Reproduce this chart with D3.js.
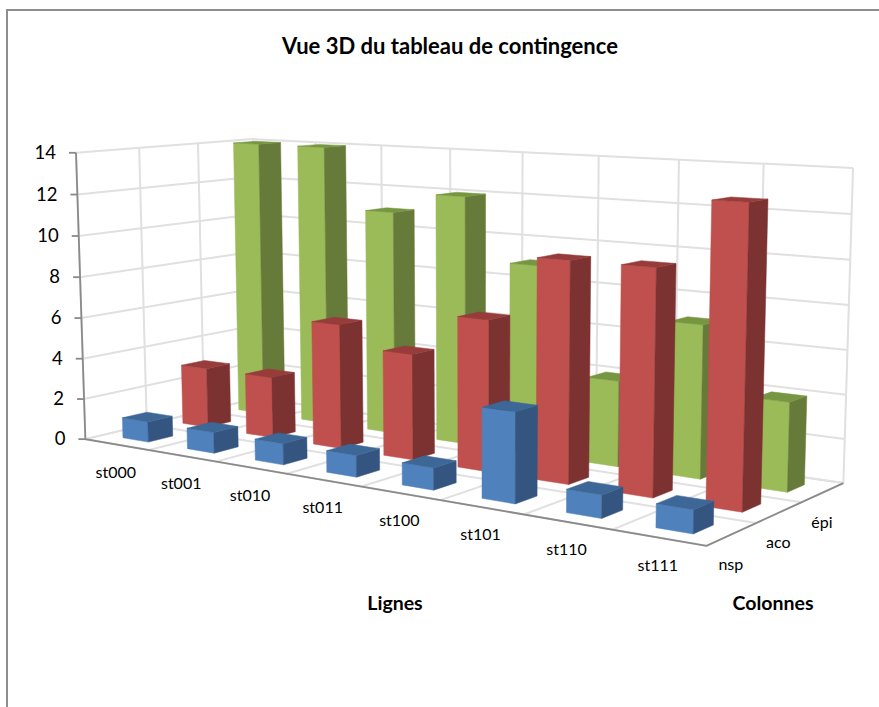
<!DOCTYPE html>
<html>
<head>
<meta charset="utf-8">
<script src="https://cdn.jsdelivr.net/npm/d3@7"></script>
<style>
  body { margin: 0; background: #fff; }
  svg { display: block; }
  text { font-family: Lato, "Open Sans", sans-serif; fill: #000; }
</style>
</head>
<body>
<div id="chart"></div>
<script>
// Values
var rowLabels = ["st000", "st001", "st010", "st011", "st100", "st101", "st110", "st111"];
var depthLabels = ["nsp", "aco", "épi"];
var nspValues = [1, 1, 1, 1, 1, 4, 1, 1];
var acoValues = [3, 3, 6, 5, 7, 10, 10, 13];
var epiValues = [14, 14, 11, 12, 9, 4, 7, 4];
var valueTicks = [0, 2, 4, 6, 8, 10, 12, 14];

var svgWidth = 879;
var svgHeight = 707;

var svg = d3.select("#chart")
    .append("svg")
    .attr("width", svgWidth)
    .attr("height", svgHeight);

// Scales go to a unit box: u along the rows, v into the depth, w upward
var uScale = d3.scaleBand().domain(rowLabels).range([0, 1]).paddingInner(0.6).paddingOuter(0.3);
var vScale = d3.scaleBand().domain(depthLabels).range([0, 1]).paddingInner(0.6).paddingOuter(0.3);
var wScale = d3.scaleLinear().domain([0, 14]).range([0, 1]);

// Where the corners of the unit box land on the page, the camera is fitted on these
var boxCorners = [
    [0, 0, 0, 85, 437],
    [1, 0, 0, 707, 547],
    [1, 1, 0, 843, 482],
    [0, 1, 0, 258, 400],
    [0, 0, 1, 76, 154],
    [0, 1, 1, 253, 138],
    [1, 1, 1, 853, 168]
];

// Solve a square linear system
function solve(A, b) {
    var n = b.length;
    var M = A.map((row, i) => row.concat([b[i]]));
    for (var c = 0; c < n; c++) {
        var best = c;
        for (var r = c + 1; r < n; r++) {
            if (Math.abs(M[r][c]) > Math.abs(M[best][c])) best = r;
        }
        var tmp = M[c]; M[c] = M[best]; M[best] = tmp;
        for (var r2 = 0; r2 < n; r2++) {
            if (r2 === c) continue;
            var f = M[r2][c] / M[c][c];
            for (var k = c; k <= n; k++) M[r2][k] -= f * M[c][k];
        }
    }
    return M.map((row, i) => row[n] / row[i]);
}

// Least squares fit of a 3x4 projective camera
function fitCamera(points) {
    var rows = [];
    var rhs = [];
    points.forEach(function(p) {
        var x = p[3] / 1000, y = p[4] / 1000;
        rows.push([p[0], p[1], p[2], 1, 0, 0, 0, 0, -x * p[0], -x * p[1], -x * p[2]]);
        rhs.push(x);
        rows.push([0, 0, 0, 0, p[0], p[1], p[2], 1, -y * p[0], -y * p[1], -y * p[2]]);
        rhs.push(y);
    });
    var n = 11;
    var AtA = d3.range(n).map(i => d3.range(n).map(j => d3.sum(rows, r => r[i] * r[j])));
    var Atb = d3.range(n).map(i => d3.sum(rows, (r, k) => r[i] * rhs[k]));
    return solve(AtA, Atb);
}

var cam = fitCamera(boxCorners);

function project(u, v, w) {
    var d = cam[8] * u + cam[9] * v + cam[10] * w + 1;
    return [
        1000 * (cam[0] * u + cam[1] * v + cam[2] * w + cam[3]) / d,
        1000 * (cam[4] * u + cam[5] * v + cam[6] * w + cam[7]) / d
    ];
}

var line = d3.line();
var closedLine = d3.line().curve(d3.curveLinearClosed);

// Chart frame
svg.append("path")
    .attr("d", line([[7, svgHeight], [7, 10], [svgWidth, 10]]))
    .attr("fill", "none")
    .attr("stroke", "#8e8e8e")
    .attr("stroke-width", 2);

// Gridlines
var gridGroup = svg.append("g")
    .attr("fill", "none")
    .attr("stroke", "#e0e0e0")
    .attr("stroke-width", 2);

function gridLine(a, b) {
    gridGroup.append("path").attr("d", line([project(a[0], a[1], a[2]), project(b[0], b[1], b[2])]));
}

valueTicks.forEach(function(t) {
    var w = wScale(t);
    gridLine([0, 0, w], [0, 1, w]);
    gridLine([0, 1, w], [1, 1, w]);
});

var uStep = uScale.step();
var vStep = vScale.step();
d3.range(0, rowLabels.length + 1).forEach(function(i) {
    gridLine([i * uStep, 0, 0], [i * uStep, 1, 0]);
    gridLine([i * uStep, 1, 0], [i * uStep, 1, 1]);
});
d3.range(0, depthLabels.length + 1).forEach(function(j) {
    gridLine([0, j * vStep, 0], [1, j * vStep, 0]);
    gridLine([0, j * vStep, 0], [0, j * vStep, 1]);
});

// Axis lines
var axisGroup = svg.append("g")
    .attr("fill", "none")
    .attr("stroke", "#8a8a8a")
    .attr("stroke-width", 1.8);

axisGroup.append("path").attr("d", line([project(0, 0, 1), project(0, 0, 0), project(1, 0, 0), project(1, 1, 0)]));

valueTicks.forEach(function(t) {
    var p = project(0, 0, wScale(t));
    axisGroup.append("path").attr("d", line([[p[0] - 7, p[1]], p]));
    svg.append("text")
        .attr("x", p[0] - 20)
        .attr("y", p[1] + 6)
        .attr("text-anchor", "end")
        .style("font-size", "18.5px")
        .text(t);
});

// Bars, back row first so the nearer ones cover it
var series = [
    {name: "épi", values: epiValues, front: "#9bbb59", side: "#667a39", top: "#779641"},
    {name: "aco", values: acoValues, front: "#c0504d", side: "#7b3230", top: "#973c3a"},
    {name: "nsp", values: nspValues, front: "#4f81bd", side: "#34557f", top: "#3c6796"}
];

series.forEach(function(s) {
    var rowGroup = svg.append("g").attr("class", "series");
    var v0 = vScale(s.name);
    var v1 = v0 + vScale.bandwidth();
    s.values.forEach(function(value, i) {
        var u0 = uScale(rowLabels[i]);
        var u1 = u0 + uScale.bandwidth();
        var h = wScale(value);
        var faces = [
            {fill: s.front, pts: [[u0, v0, 0], [u1, v0, 0], [u1, v0, h], [u0, v0, h]]},
            {fill: s.side, pts: [[u1, v0, 0], [u1, v1, 0], [u1, v1, h], [u1, v0, h]]},
            {fill: s.top, pts: [[u0, v0, h], [u1, v0, h], [u1, v1, h], [u0, v1, h]]}
        ];
        faces.forEach(function(f) {
            rowGroup.append("path")
                .attr("d", closedLine(f.pts.map(q => project(q[0], q[1], q[2]))))
                .attr("fill", f.fill)
                .attr("stroke", f.fill)
                .attr("stroke-width", 0.5);
        });
    });
});

// Row and depth labels
rowLabels.forEach(function(label) {
    var p = project(uScale(label) + uScale.bandwidth() / 2, 0, 0);
    svg.append("text")
        .attr("x", p[0] - 1)
        .attr("y", p[1] + 33)
        .attr("text-anchor", "middle")
        .style("font-size", "16px")
        .text(label);
});

depthLabels.forEach(function(label) {
    var p = project(1, vScale(label) + vScale.bandwidth() / 2, 0);
    svg.append("text")
        .attr("x", p[0] - 1)
        .attr("y", p[1] + 36)
        .attr("text-anchor", "middle")
        .style("font-size", "16px")
        .text(label);
});

// Titles
svg.append("text")
    .attr("x", 450)
    .attr("y", 54)
    .attr("text-anchor", "middle")
    .style("font-size", "22px")
    .style("font-weight", "bold")
    .text("Vue 3D du tableau de contingence");

svg.append("text")
    .attr("x", 395)
    .attr("y", 610)
    .attr("text-anchor", "middle")
    .style("font-size", "19.5px")
    .style("font-weight", "bold")
    .text("Lignes");

svg.append("text")
    .attr("x", 773)
    .attr("y", 610)
    .attr("text-anchor", "middle")
    .style("font-size", "19.5px")
    .style("font-weight", "bold")
    .text("Colonnes");
</script>
</body>
</html>
